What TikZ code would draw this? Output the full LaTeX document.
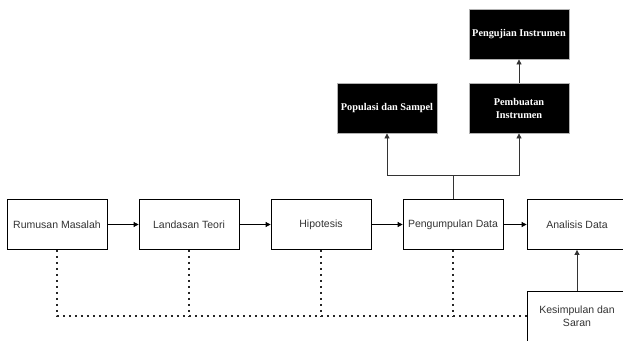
\documentclass[tikz,border=0pt]{standalone}
\usepackage{fontspec}
\setmainfont{Liberation Serif}
\setsansfont{Liberation Sans}
\usetikzlibrary{arrows.meta,positioning}
\definecolor{linegray}{HTML}{333333}

\begin{document}
\begin{tikzpicture}[
  x=1pt, y=-1pt,
  every node/.style={align=center},
  stepbox/.style={rectangle, draw=black, line width=0.8pt, fill=white,
                  minimum width=100pt, minimum height=50pt, inner sep=2pt,
                  font=\sffamily\fontsize{10.5}{13}\selectfont, text=black!80},
  darkbox/.style={rectangle, draw=gray!60, line width=0.8pt, fill=black,
                  minimum width=100pt, minimum height=50pt, inner sep=2pt,
                  font=\bfseries\fontsize{10.3}{13}\selectfont, text=white},
  flow/.style={-{Triangle[length=5pt,width=5pt]}, line width=0.8pt},
  link/.style={line width=1.8pt, dash pattern=on 1.6pt off 4.4pt, black!85},
  >=Latex
]
\useasboundingbox (0,0) rectangle (623,340);

% ---- Main row ---------------------------------------------------------------
\node[stepbox] (rumusan)     at (57,224.5)  {Rumusan Masalah};
\node[stepbox] (landasan)    at (189,224.5) {Landasan Teori};
\node[stepbox] (hipotesis)   at (321,224.5) {Hipotesis};
\node[stepbox] (pengumpulan) at (453,224.5) {Pengumpulan Data};
\node[stepbox] (analisis)    at (577,224.5) {Analisis Data};
\node[stepbox] (kesimpulan)  at (577,316)   {Kesimpulan dan\\ Saran};

% ---- Instrument branch ------------------------------------------------------
\node[darkbox] (populasi)  at (387,108) {Populasi dan Sampel};
\node[darkbox] (pembuatan) at (519,108) {Pembuatan\\ Instrumen};
\node[darkbox] (pengujian) at (519,34)  {Pengujian Instrumen};

% ---- Arrows -------------------------------------------------------------------
\draw[flow] (rumusan) -- (landasan);
\draw[flow] (landasan) -- (hipotesis);
\draw[flow] (hipotesis) -- (pengumpulan);
\draw[flow] (pengumpulan) -- (analisis);
\draw[flow, linegray] (kesimpulan) -- (analisis);

\coordinate (split) at (453,175);
\draw[line width=0.8pt, linegray] (pengumpulan.north) -- (split);
\draw[flow, linegray] (split) -| (populasi.south);
\draw[flow, linegray] (split) -| (pembuatan.south);
\draw[flow, linegray] (pembuatan) -- (pengujian);

% ---- Dotted feedback ----------------------------------------------------------
\draw[link] (rumusan.south) |- (kesimpulan.west);
\draw[link] (landasan.south) -- (landasan.south |- kesimpulan.west);
\draw[link] (hipotesis.south) -- (hipotesis.south |- kesimpulan.west);
\draw[link] (pengumpulan.south) -- (pengumpulan.south |- kesimpulan.west);

\end{tikzpicture}
\end{document}
